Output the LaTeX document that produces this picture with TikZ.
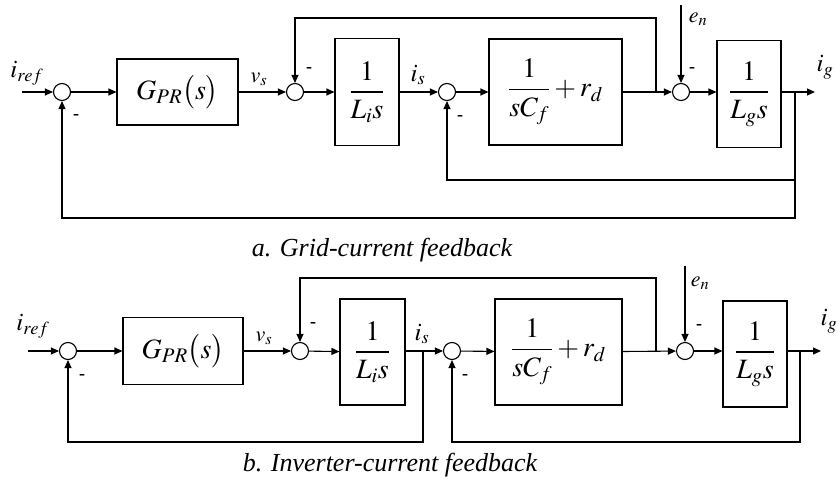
\documentclass[tikz,border=0pt]{standalone}
\usepackage{mathptmx}
\usepackage{fontspec}
\setmainfont{Liberation Serif}
\usetikzlibrary{arrows.meta}
\tikzset{
    sig/.style={-{Triangle[length=8pt,width=7pt]}, line width=1.1pt},
    wire/.style={line width=1.1pt},
    sumnode/.style={circle, draw, line width=1.1pt, minimum size=17pt, inner sep=0pt},
    block/.style={draw, line width=1.1pt, inner sep=0pt, font=\fontsize{28}{32}\selectfont},
    minus/.style={inner sep=0pt, font=\fontsize{18}{20}\selectfont\bfseries},
    lbl/.style={inner sep=0pt, font=\fontsize{25}{28}\selectfont},
    slbl/.style={inner sep=0pt, font=\fontsize{22}{24}\selectfont},
    caption/.style={inner sep=0pt, font=\fontsize{26}{30}\selectfont\itshape}
}
\begin{document}
\begin{tikzpicture}[x=1pt, y=-1pt]
                        \useasboundingbox (0,0) rectangle (837,487);
                        % a. Grid-current feedback
                        % Sums
                        \node[sumnode] (a1) at (62,92) {};
                        \node[sumnode] (a2) at (295,92) {};
                        \node[sumnode] (a3) at (447,92) {};
                        \node[sumnode] (a4) at (681,92) {};
                        % Blocks
                        \node[block, minimum width=121pt, minimum height=66pt] (aG) at (177.5,92) {$G_{PR}\bigl(s\bigr)$};
                        \node[block, minimum width=64pt, minimum height=107pt] (aLi) at (367,92) {$\displaystyle\frac{1}{L_i s}$};
                        \node[block, minimum width=133pt, minimum height=106pt] (aC) at (555.5,92) {$\displaystyle\frac{1}{sC_f}+r_d$};
                        \node[block, minimum width=64pt, minimum height=107pt] (aLg) at (749,94) {$\displaystyle\frac{1}{L_g s}$};
                        % Points
                        \coordinate (aIn) at (22,92);
                        \coordinate (aOut) at (815,92);
                        \coordinate (aEn) at (681,5);
                        \coordinate (aB1) at (656,92);
                        \coordinate (aT) at (656,18);
                        \coordinate (aB2) at (795,92);
                        \coordinate (aF1) at (795,180);
                        \coordinate (aF2) at (795,218);
                        % Forward path
                        \draw[sig] (aIn) -- (a1);
                        \foreach \a/\b in {a1/aG, aG/a2, a2/aLi, aLi/a3, a3/aC, aC/a4}
                        {
                            \draw[sig] (\a) -- (\b);
                        }
                        \draw[sig] (a4) -- (a4 -| aLg.west);
                        \draw[sig] (aLg.east |- aOut) -- (aOut);
                        \draw[sig] (aEn) -- (a4);
                        % Feedback
                        \draw[sig] (aB1) -- (aT) -| (a2);
                        \draw[sig] (aB2) -- (aF1) -| (a3);
                        \draw[sig] (aF1) -- (aF2) -| (a1);
                        % Labels
                        \node[lbl] (airef) at (27,73) {$i_{ref}$};
                        \node[slbl] (avs) at (259,79) {$v_s$};
                        \node[lbl] (ais) at (418,75) {$i_s$};
                        \node[slbl] (aen) at (698,19) {$e_n$};
                        \node[lbl] (aig) at (825,67) {$i_g$};
                        \node[caption] (capA) at (382,250) {a. Grid-current feedback};

                        % b. Inverter-current feedback
                        % Sums
                        \node[sumnode] (b1) at (68,351) {};
                        \node[sumnode] (b2) at (300,351) {};
                        \node[sumnode] (b3) at (452,351) {};
                        \node[sumnode] (b4) at (685,351) {};
                        % Blocks
                        \node[block, minimum width=120pt, minimum height=67pt] (bG) at (183,351) {$G_{PR}\bigl(s\bigr)$};
                        \node[block, minimum width=65pt, minimum height=106pt] (bLi) at (372.5,352) {$\displaystyle\frac{1}{L_i s}$};
                        \node[block, minimum width=127pt, minimum height=106pt] (bC) at (558.5,352) {$\displaystyle\frac{1}{sC_f}+r_d$};
                        \node[block, minimum width=64pt, minimum height=106pt] (bLg) at (755,354) {$\displaystyle\frac{1}{L_g s}$};
                        % Points
                        \coordinate (bIn) at (28,351);
                        \coordinate (bOut) at (821,351);
                        \coordinate (bEn) at (685,266);
                        \coordinate (bB1) at (656,351);
                        \coordinate (bT) at (656,278);
                        \coordinate (bB2) at (423,351);
                        \coordinate (bF1) at (423,442);
                        \coordinate (bB3) at (800,351);
                        \coordinate (bF2) at (800,442);
                        % Forward path
                        \draw[sig] (bIn) -- (b1);
                        \foreach \a/\b in {b1/bG, bG/b2, b2/bLi, b3/bC, bC/b4}
                        {
                            \draw[sig] (\a) -- (\b);
                        }
                        \draw[sig] (bLi.east |- b3) -- (b3);
                        \draw[sig] (b4) -- (b4 -| bLg.west);
                        \draw[sig] (bLg.east |- bOut) -- (bOut);
                        \draw[sig] (bEn) -- (b4);
                        % Feedback
                        \draw[sig] (bB1) -- (bT) -| (b2);
                        \draw[sig] (bB2) -- (bF1) -| (b1);
                        \draw[sig] (bB3) -- (bF2) -| (b3);
                        % Labels
                        \node[lbl] (biref) at (33,326) {$i_{ref}$};
                        \node[slbl] (bvs) at (264,338) {$v_s$};
                        \node[lbl] (bis) at (422,334) {$i_s$};
                        \node[slbl] (ben) at (700,283) {$e_n$};
                        \node[lbl] (big) at (829,321) {$i_g$};
                        \node[caption] (capB) at (390,465) {b. Inverter-current feedback};

                        % Minus signs
                        \foreach \x/\y [count=\i] in {76/117, 309/70, 460/118, 692/70, 82/377, 313/325, 465/377, 699/327}
                        {
                            \node[minus] (m\i) at (\x,\y) {-};
                        }
                    \end{tikzpicture}
\end{document}
